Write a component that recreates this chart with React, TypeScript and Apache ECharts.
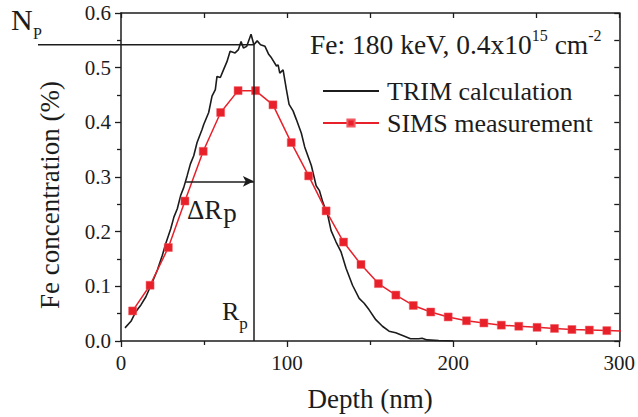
import React, { useEffect, useRef } from "react";
import * as echarts from "echarts";

// TRIM calculation (depth nm, concentration %)
const trimDepth = [2.4, 6, 9, 12, 15, 18.9, 21.9, 24.9, 26.9, 29.9, 31.9, 33.9, 35.9, 37.8, 39.8, 41.8, 43.8, 45.8, 48.8, 49.8, 52.8, 54.8, 56.8, 57.8, 59.8, 61.7, 63.8, 65.7, 68.7, 70.7, 72.3, 73.7, 75.7, 78.3, 80, 82, 84, 86.7, 89, 90.6, 93.6, 94.6, 95.6, 97.6, 99.6, 101.2, 103.6, 105.6, 108.6, 110.6, 114.6, 117.5, 119.5, 121.5, 124.5, 126.5, 129.5, 132.5, 135.5, 139.4, 143.4, 146.4, 149.4, 153.4, 157.4, 161.4, 165.4, 170.3, 174.3, 179.3, 181.3, 184.3, 191.3, 200];
const trimConc = [0.024, 0.036, 0.054, 0.066, 0.081, 0.108, 0.13, 0.157, 0.178, 0.205, 0.227, 0.242, 0.266, 0.281, 0.302, 0.324, 0.339, 0.363, 0.387, 0.396, 0.418, 0.448, 0.46, 0.484, 0.482, 0.496, 0.511, 0.53, 0.527, 0.533, 0.548, 0.536, 0.539, 0.561, 0.542, 0.549, 0.542, 0.539, 0.524, 0.518, 0.503, 0.505, 0.49, 0.496, 0.46, 0.433, 0.421, 0.405, 0.38, 0.355, 0.321, 0.284, 0.275, 0.254, 0.23, 0.202, 0.181, 0.163, 0.133, 0.102, 0.078, 0.069, 0.057, 0.039, 0.027, 0.018, 0.015, 0.009, 0.004, 0.004, 0.005, 0.002, 0.001, 0.0];

// SIMS measurement
const simsDepth = [7, 17.5, 28.5, 38.5, 49.5, 60, 70.5, 81, 91.5, 102.5, 113, 123.5, 134, 144.5, 155, 165.5, 176, 186.5, 197, 208, 218.5, 229, 239.5, 250.5, 261, 271.5, 282, 292.5, 303];
const simsConc = [0.055, 0.102, 0.171, 0.256, 0.347, 0.418, 0.458, 0.458, 0.432, 0.363, 0.302, 0.238, 0.181, 0.14, 0.105, 0.084, 0.065, 0.053, 0.044, 0.037, 0.033, 0.029, 0.027, 0.025, 0.023, 0.021, 0.02, 0.019, 0.018];

// Annotation values (data units)
const RP = 80;
const NP = 0.542;
const DRP_START = 39.2;
const DRP_Y = 0.292;

const seriesNames = ["TRIM calculation", "SIMS measurement"];

export default function App() {
  const ref = useRef<HTMLDivElement>(null);
  useEffect(() => {
    const chart = echarts.init(ref.current!, null, { renderer: "svg" });
    const font = "'Liberation Serif', 'Times New Roman', serif";
    const ink = "#1c1c1c";
    const red = "#e8202a";
    const axisLine = { show: true, onZero: false, lineStyle: { color: ink, width: 1.5 } };
    chart.setOption({
      animation: false,
      backgroundColor: "#ffffff",
      grid: { left: 121, top: 13, width: 502, height: 330 },
      legend: {
        orient: "vertical",
        left: 322,
        top: 78,
        padding: 0,
        itemWidth: 56,
        itemHeight: 9,
        itemGap: 6,
        selectedMode: false,
        data: [
          { name: seriesNames[0], itemStyle: { opacity: 0 } },
          { name: seriesNames[1] },
        ],
        textStyle: { fontFamily: font, fontSize: 26, color: ink, lineHeight: 26, padding: [0, 0, 0, 3] },
      },
      xAxis: [
        {
          type: "value",
          min: 0,
          max: 300,
          interval: 100,
          position: "bottom",
          axisLine,
          axisTick: { show: true, inside: false, length: 6, lineStyle: { color: ink, width: 1.3 } },
          minorTick: { show: true, splitNumber: 2, length: 4, lineStyle: { color: ink, width: 1.3 } },
          axisLabel: { color: ink, fontFamily: font, fontSize: 21, margin: 11 },
          splitLine: { show: false },
          name: "Depth (nm)",
          nameLocation: "middle",
          nameGap: 44,
          nameTextStyle: { fontFamily: font, fontSize: 27, color: ink },
        },
        {
          type: "value",
          min: 0,
          max: 300,
          interval: 50,
          position: "top",
          axisLine,
          axisTick: { show: true, inside: true, length: 5, lineStyle: { color: ink, width: 1.3 } },
          axisLabel: { show: false },
          splitLine: { show: false },
        },
      ],
      yAxis: [
        {
          type: "value",
          min: 0,
          max: 0.6,
          interval: 0.1,
          position: "left",
          axisLine,
          axisTick: { show: true, inside: false, length: 6, lineStyle: { color: ink, width: 1.3 } },
          minorTick: { show: true, splitNumber: 2, length: 4, lineStyle: { color: ink, width: 1.3 } },
          axisLabel: {
            color: ink,
            fontFamily: font,
            fontSize: 21,
            margin: 10,
            formatter: (v: number) => v.toFixed(1),
          },
          splitLine: { show: false },
        },
        {
          type: "value",
          min: 0,
          max: 0.6,
          interval: 0.05,
          position: "right",
          axisLine,
          axisTick: { show: true, inside: true, length: 5, lineStyle: { color: ink, width: 1.3 } },
          axisLabel: { show: false },
          splitLine: { show: false },
        },
      ],
      series: [
        {
          name: seriesNames[0],
          type: "line",
          xAxisIndex: 0,
          yAxisIndex: 0,
          data: trimDepth.map((d, i) => [d, trimConc[i]]),
          showSymbol: false,
          symbol: "none",
          lineStyle: { color: ink, width: 1.6 },
          itemStyle: { color: ink },
          clip: true,
          z: 2,
          markLine: {
            silent: true,
            animation: false,
            label: { show: false },
            lineStyle: { color: ink, width: 1.5, type: "solid" },
            symbol: ["none", "none"],
            data: [
              [
                { coord: [RP, 0], symbol: "none" },
                { coord: [RP, NP], symbol: "none" },
              ],
              [
                { coord: [DRP_START, DRP_Y], symbol: "none" },
                { coord: [RP, DRP_Y], symbol: "arrow", symbolSize: [8, 11] },
              ],
            ],
          },
        },
        {
          name: seriesNames[1],
          type: "line",
          xAxisIndex: 0,
          yAxisIndex: 0,
          data: simsDepth.map((d, i) => [d, simsConc[i]]),
          symbol: "rect",
          symbolSize: 8,
          lineStyle: { color: red, width: 1.5 },
          itemStyle: { color: red, borderColor: "#f05a60", borderWidth: 0.5 },
          clip: true,
          z: 3,
        },
      ],
    });

    const p = chart.convertToPixel({ gridIndex: 0 }, [RP, NP]) as number[];
    chart.setOption({
      graphic: [
        {
          type: "line",
          shape: { x1: 38, y1: p[1], x2: p[0], y2: p[1] },
          style: { stroke: ink, lineWidth: 1.5 },
          silent: true,
        },
        {
          type: "text",
          x: 11,
          y: 19,
          style: { text: "N", fontFamily: font, fontSize: 30, fill: ink, verticalAlign: "middle", align: "left" },
        },
        {
          type: "text",
          x: 33,
          y: 33,
          style: { text: "P", fontFamily: font, fontSize: 16, fill: ink, verticalAlign: "middle", align: "left" },
        },
        {
          type: "text",
          x: 50,
          y: 195,
          rotation: Math.PI / 2,
          style: {
            text: "Fe concentration (%)",
            fontFamily: font,
            fontSize: 27,
            fill: ink,
            align: "center",
            verticalAlign: "middle",
          },
        },
        {
          type: "text",
          x: 310,
          y: 27,
          style: {
            text: "{m|Fe: 180 keV, 0.4x10}{s|15}{m| cm}{s|-2}",
            fontFamily: font,
            fill: ink,
            verticalAlign: "top",
            align: "left",
            rich: {
              m: { fontFamily: font, fontSize: 27.5, lineHeight: 31, fill: ink, verticalAlign: "bottom" },
              s: { fontFamily: font, fontSize: 16, lineHeight: 16, fill: ink, verticalAlign: "top" },
            },
          },
        },
        {
          type: "text",
          x: 187,
          y: 196,
          style: {
            text: "{m|ΔR}{s|p}",
            fontFamily: font,
            fill: ink,
            verticalAlign: "top",
            align: "left",
            rich: {
              m: { fontFamily: font, fontSize: 27, lineHeight: 27, fill: ink, verticalAlign: "top" },
              s: { fontFamily: font, fontSize: 27, lineHeight: 30, fill: ink, verticalAlign: "bottom", padding: [0, 0, 0, 1] },
            },
          },
        },
        {
          type: "text",
          x: 222,
          y: 298,
          style: {
            text: "{m|R}{s|p}",
            fontFamily: font,
            fill: ink,
            verticalAlign: "top",
            align: "left",
            rich: {
              m: { fontFamily: font, fontSize: 26, lineHeight: 26, fill: ink, verticalAlign: "top" },
              s: { fontFamily: font, fontSize: 17, lineHeight: 34, fill: ink, verticalAlign: "bottom" },
            },
          },
        },
      ],
    });

    return () => chart.dispose();
  }, []);

  return (
    <div
      ref={ref}
      style={{ position: "fixed", left: 0, top: 0, width: 638, height: 417, background: "#fff" }}
    />
  );
}
